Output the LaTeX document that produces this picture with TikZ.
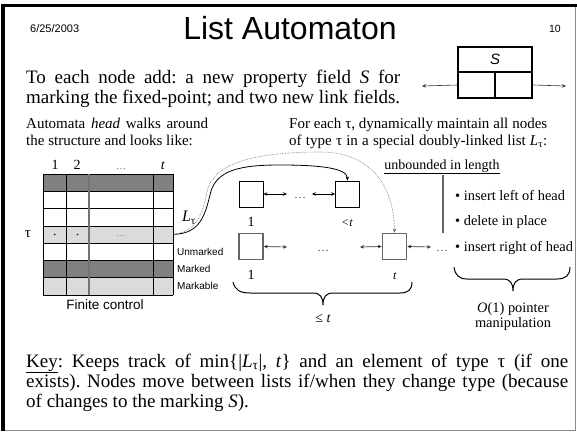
\documentclass[tikz,border=0pt]{standalone}
\usepackage{fontspec}
\setmainfont{Liberation Serif}
\newfontfamily\arial{Liberation Sans}
\usetikzlibrary{arrows.meta}
\newcommand{\fsz}[1]{\fontsize{#1}{#1}\selectfont}
\newcommand{\Ltau}{\textit{L}\textsubscript{τ}}
\frenchspacing
\begin{document}
\begin{tikzpicture}[x=1pt,y=-1pt,
  txt/.style={inner sep=0pt, anchor=base west},
  ctr/.style={inner sep=0pt, anchor=base},
  sm/.style={-{Stealth[length=4pt,width=3.5pt]}},
  dbl/.style={{Stealth[length=4pt,width=3.5pt]}-{Stealth[length=4pt,width=3.5pt]}},
  topbox/.style={draw, line width=0.8pt, minimum width=24pt, minimum height=26pt, inner sep=0pt},
  botbox/.style={draw=black!60, line width=1.5pt, minimum width=24pt, minimum height=26pt, inner sep=0pt},
  cell/.style={draw, line width=0.6pt},
  brace/.style={line width=1pt}]
\useasboundingbox (0,0) rectangle (577,431);
\fill[white] (0,0) rectangle (577,431);
% frame
\draw[black!45, line width=0.8pt] (5,6) -- (575,6) -- (575,430) -- (5,430);
\fill[black] (1,4) rectangle (577,7);
\fill[black] (1,4) rectangle (5,431);

% header
\node[txt] (date) at (30,32) {\arial\fsz{11}6/25/2003};
\node[ctr] (title) at (290,39) {\arial\fsz{32}List Automaton};
\node[inner sep=0pt, anchor=base east] (pnum) at (561,32) {\arial\fsz{10.5}10};

% S box
\node[draw, line width=1.3pt, minimum width=74pt, minimum height=25pt, inner sep=0pt] (sS) at (495,59.5) {\arial\itshape\fsz{15}S};
\node[draw, line width=1.3pt, minimum width=37pt, minimum height=26pt, inner sep=0pt] (sL) at (476.5,85) {};
\node[draw, line width=1.3pt, minimum width=37pt, minimum height=26pt, inner sep=0pt] (sR) at (513.5,85) {};
\coordinate (aL) at (422,86);
\coordinate (aR) at (566,86);
\draw[sm, black!80, line width=0.6pt] (sL.west) -- (aL);
\draw[sm, black!80, line width=0.6pt] (sR.east) -- (aR);

% body text
\node[txt] (t1) at (26,83) {\fsz{19}\makebox[374pt][s]{To each node add: a new property field \textit{S} for}};
\node[txt] (t2) at (26,103) {\fsz{19}\makebox[374pt][s]{marking the fixed-point; and two new link fields.}};
\node[txt] (l1) at (26,128) {\fsz{15}\makebox[182pt][s]{Automata \textit{head} walks around}};
\node[txt] (l2) at (26,145) {\fsz{15}the structure and looks like:};
\node[txt] (r1) at (289,128) {\fsz{15}\makebox[258pt][s]{For each τ, dynamically maintain all nodes}};
\node[txt] (r2) at (289,145) {\fsz{15}\makebox[258pt][s]{of type τ in a special doubly-linked list \Ltau:}};

% finite control table
\fill[black!50] (43.3,174) rectangle (173.3,191.3);
\fill[black!14] (43.3,225.9) rectangle (173.3,243.1);
\fill[black!50] (43.3,260.4) rectangle (173.3,277.7);
\fill[black!14] (43.3,277.7) rectangle (173.3,295);
\foreach \yy in {174,191.3,208.6,225.9,243.1,260.4,277.7,295}
  \draw[cell] (43.3,\yy) -- (173.3,\yy);
\foreach \xx in {43.3,66,153.3,173.3}
  \draw[cell] (\xx,174) -- (\xx,295);
\draw[black!55, line width=1.2pt] (89,174) -- (89,295);
\fill (54.7,234.5) circle (0.9pt);
\fill (77.5,234.5) circle (0.9pt);
\node[ctr] (rdots) at (121,236) {\color{black!60}\fsz{9}…};
\node[ctr] (h1) at (55,169) {\fsz{14}1};
\node[ctr] (h2) at (77,169) {\fsz{14}2};
\node[ctr] (h3) at (121,169) {\color{black!60}\fsz{10}…};
\node[ctr] (h4) at (163,169) {\fsz{14}\textit{t}};
\node[ctr] (tau) at (28,237) {\fsz{15}τ};
\node[inner sep=0pt, anchor=west] (um) at (177,252) {\arial\fsz{10}Unmarked};
\node[inner sep=0pt, anchor=west] (mk) at (177,269) {\arial\fsz{10}Marked};
\node[inner sep=0pt, anchor=west] (mb) at (177,286.3) {\arial\fsz{10}Markable};
\node[inner sep=0pt] (fc) at (105,305) {\arial\fsz{13.5}Finite control};
\coordinate (tabR) at (173.3,234.3);
\node[inner sep=0pt] (Lt) at (189,218) {\fsz{16}\Ltau};

% lists
\node[topbox] (tb1) at (251,194) {};
\node[topbox] (tbt) at (347.5,194) {};
\node[botbox] (bb1) at (251,246.5) {};
\node[botbox] (bbt) at (394.5,246.5) {};
\coordinate (c1) at (287,194);
\coordinate (c2) at (312,194);
\coordinate (c3) at (287,247);
\coordinate (c4) at (360,247);
\coordinate (c5) at (431,247);
\draw[dbl, line width=0.7pt] (tb1.east) -- (c1);
\draw[dbl, line width=0.7pt] (c2) -- (tbt.west);
\draw[dbl, line width=0.7pt, black!80] (bb1.east) -- (c3);
\draw[dbl, line width=0.7pt, black!80] (c4) -- (bbt.west);
\draw[dbl, line width=0.7pt, black!80] (bbt.east) -- (c5);
\node[ctr] (d1) at (300,198) {\color{black!70}\fsz{12}…};
\node[ctr] (d2) at (323,251) {\color{black!70}\fsz{12}…};
\node[ctr] (d3) at (442,251) {\color{black!70}\fsz{12}…};
\node[ctr] (n1) at (251,226) {\fsz{14}1};
\node[ctr] (n2) at (347,226) {\fsz{12}\textit{<t}};
\node[ctr] (n3) at (251,279) {\fsz{14}1};
\node[ctr] (n4) at (395,279) {\fsz{12}\textit{t}};

% curves from table to lists
\draw[sm, line width=0.8pt] (tabR) .. controls (200,234) and (205,215) .. (210,195)
   .. controls (215,170) and (240,165) .. (280,165)
   .. controls (320,165) and (347,168) .. (tbt.north);
\draw[sm, black!60, densely dotted, line width=0.6pt] (tabR) .. controls (195,232) and (203,215) .. (207,192)
   .. controls (212,165) and (250,152) .. (320,152)
   .. controls (370,152) and (394,185) .. (bbt.north);

% brace under lists
\coordinate (bl) at (233,282);
\coordinate (br) at (412,282);
\coordinate (bt) at (323,305);
\draw[brace] (bl) .. controls (235,290) and (240,293) .. (250,293) -- (313,293)
   .. controls (320,293) and (323,297) .. (bt)
   .. controls (323,297) and (326,293) .. (333,293) -- (400,293)
   .. controls (408,293) and (412,290) .. (br);
\node[ctr] (le) at (323,322) {\fsz{14}≤ \textit{t}};

% right part
\node[ctr] (ub) at (442,169) {\fsz{14}\underline{unbounded in length}};
\coordinate (vt) at (443,175);
\coordinate (vb) at (443,233);
\draw[black!60, line width=1.1pt] (vt) -- (vb);
\node[inner sep=0pt, anchor=west] (b1) at (455,195) {\fsz{14.4}• insert left of head};
\node[inner sep=0pt, anchor=west] (b2) at (455,222) {\fsz{14.4}• delete in place};
\node[inner sep=0pt, anchor=west] (b3) at (455,248) {\fsz{14.4}• insert right of head};
\coordinate (rbl) at (454,267);
\coordinate (rbr) at (570,267);
\coordinate (rbt) at (513,291);
\draw[brace] (rbl) .. controls (455,275) and (459,279) .. (467,279) -- (503,279)
   .. controls (510,279) and (513,283) .. (rbt)
   .. controls (513,283) and (516,279) .. (523,279) -- (557,279)
   .. controls (566,279) and (570,275) .. (rbr);
\node[ctr] (o1) at (513,312) {\fsz{14.4}\textit{O}(1) pointer};
\node[ctr] (o2) at (513,327) {\fsz{14.4}manipulation};

% key
\node[txt] (k1) at (26,367) {\fsz{19}\makebox[542pt][s]{\underline{Key}: Keeps track of min\{|\Ltau|, \textit{t}\} and an element of type τ (if one}};
\node[txt] (k2) at (26,387) {\fsz{19}\makebox[542pt][s]{exists). Nodes move between lists if/when they change type (because}};
\node[txt] (k3) at (26,407) {\fsz{19}of changes to the marking \textit{S}).};
\end{tikzpicture}
\end{document}
